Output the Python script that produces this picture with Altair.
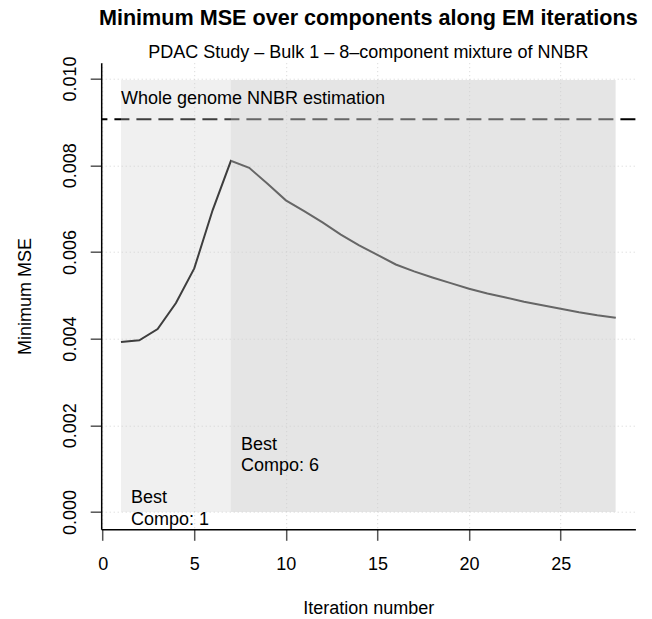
import altair as alt
import pandas as pd

# EM iterations and the smallest MSE over the mixture components at each one
iterations = list(range(1, 29))
min_mse = [
    0.00392, 0.00396, 0.00422, 0.00482, 0.00562, 0.00696, 0.00810,
    0.00794, 0.00757, 0.00719, 0.00694, 0.00668, 0.00640, 0.00615,
    0.00593, 0.00571, 0.00555, 0.00541, 0.00528, 0.00515, 0.00504,
    0.00495, 0.00485, 0.00477, 0.00469, 0.00461, 0.00454, 0.00448,
]

# MSE of the single NNBR fitted on the whole genome
nnbr_mse = 0.00906

# iteration ranges over which a given component is the best one
region_start = [1, 7]
region_end = [7, 28]
best_compo = [1, 6]
best_label_y = [0.00032, 0.00155]

x_ticks = [0, 5, 10, 15, 20, 25]
y_ticks = [0.000, 0.002, 0.004, 0.006, 0.008, 0.010]

FONT = "Liberation Sans"
W, H = 534.2, 466.6

# R-style axis ranges: data range widened by 4% on each side
band_top = nnbr_mse * 1.1
x_span = max(iterations) - min(iterations)
x_dom = [min(iterations) - 0.04 * x_span, max(iterations) + 0.04 * x_span]
y_dom = [-0.04 * band_top, band_top * 1.04]

xs = alt.Scale(domain=x_dom, nice=False, zero=False)
ys = alt.Scale(domain=y_dom, nice=False, zero=False)

curve = pd.DataFrame({"x": iterations, "y": min_mse})
regions = pd.DataFrame({
    "x": region_start,
    "x2": region_end,
    "compo": best_compo,
    "y": [0.0] * len(best_compo),
    "y2": [band_top] * len(best_compo),
    "label_y": best_label_y,
    "label": [["Best", f"Compo: {c}"] for c in best_compo],
})
ref = pd.DataFrame({"y": [nnbr_mse], "x": [1], "label_y": [nnbr_mse * 1.04],
                    "label": ["Whole genome NNBR estimation"]})

x_axis = alt.Axis(
    values=x_ticks, title="Iteration number", grid=True,
    gridColor="#d3d3d3", gridDash=[1, 3], gridWidth=1,
    domainColor="black", domainWidth=1.5,
    tickColor="#555555", tickSize=11, tickWidth=1.5,
    labelFont=FONT, labelFontSize=18, labelColor="black", labelPadding=15,
    labelFlush=False, labelOverlap=False,
    titleFont=FONT, titleFontSize=18, titleFontWeight="normal", titleColor="black",
    titleX=W / 2, titleY=83.9, titleBaseline="alphabetic", titleAlign="center",
)
y_axis = alt.Axis(
    values=y_ticks, format=".3f", title="Minimum MSE", grid=True,
    gridColor="#d3d3d3", gridDash=[1, 3], gridWidth=1,
    domainColor="black", domainWidth=1.5,
    tickColor="#555555", tickSize=11, tickWidth=1.5,
    labelFont=FONT, labelFontSize=18, labelColor="black",
    labelAngle=-90, labelAlign="center", labelBaseline="alphabetic", labelPadding=15,
    labelFlush=False, labelOverlap=False,
    titleFont=FONT, titleFontSize=18, titleFontWeight="normal", titleColor="black",
    titleAngle=-90, titleX=-71, titleY=H / 2, titleBaseline="alphabetic", titleAlign="center",
)


def X(field="x"):
    return alt.X(f"{field}:Q", scale=xs, axis=x_axis, title="Iteration number")


def Y(field="y"):
    return alt.Y(f"{field}:Q", scale=ys, axis=y_axis, title="Minimum MSE")


# horizontal reference: whole-genome estimate
ref_rule = alt.Chart(ref).mark_rule(
    color="black", strokeWidth=2, strokeDash=[15, 7]
).encode(y=Y("y"))

# min MSE trajectory
line = alt.Chart(curve).mark_line(color="black", strokeWidth=2).encode(
    x=X("x"), y=Y("y"),
)

# translucent grey bands, one per best component
bands = alt.Chart(regions).mark_rect(color="#cccccc").encode(
    x=X("x"), x2="x2:Q", y=Y("y"), y2="y2:Q",
    opacity=alt.Opacity("compo:O", scale=alt.Scale(domain=best_compo, range=[0.3, 0.5]), legend=None),
)

band_labels = alt.Chart(regions).mark_text(
    align="left", baseline="middle", dx=10, font=FONT, fontSize=18,
    lineHeight=21.6, color="black",
).encode(x=X("x"), y=Y("label_y"), text="label")

ref_label = alt.Chart(ref).mark_text(
    align="left", baseline="alphabetic", font=FONT, fontSize=18, color="black",
).encode(x=X("x"), y=Y("label_y"), text="label:N")

chart = alt.layer(line, ref_rule, bands, band_labels, ref_label).properties(
    width=W,
    height=H,
    background="white",
    title=alt.TitleParams(
        text="Minimum MSE over components along EM iterations",
        subtitle="PDAC Study – Bulk 1 – 8–component mixture of NNBR",
        anchor="middle", frame="group",
        font=FONT, fontSize=21.6, fontWeight="bold", color="black",
        subtitleFont=FONT, subtitleFontSize=18, subtitleColor="black",
        subtitlePadding=14.6, offset=-6.3,
    ),
    autosize=alt.AutoSizeParams(type="none"),
    padding={"left": 101.2, "top": 62.7, "right": 16.6, "bottom": 89.7},
).configure_view(stroke=None)

chart.save("out.html", embed_options={"renderer": "svg", "actions": False})
